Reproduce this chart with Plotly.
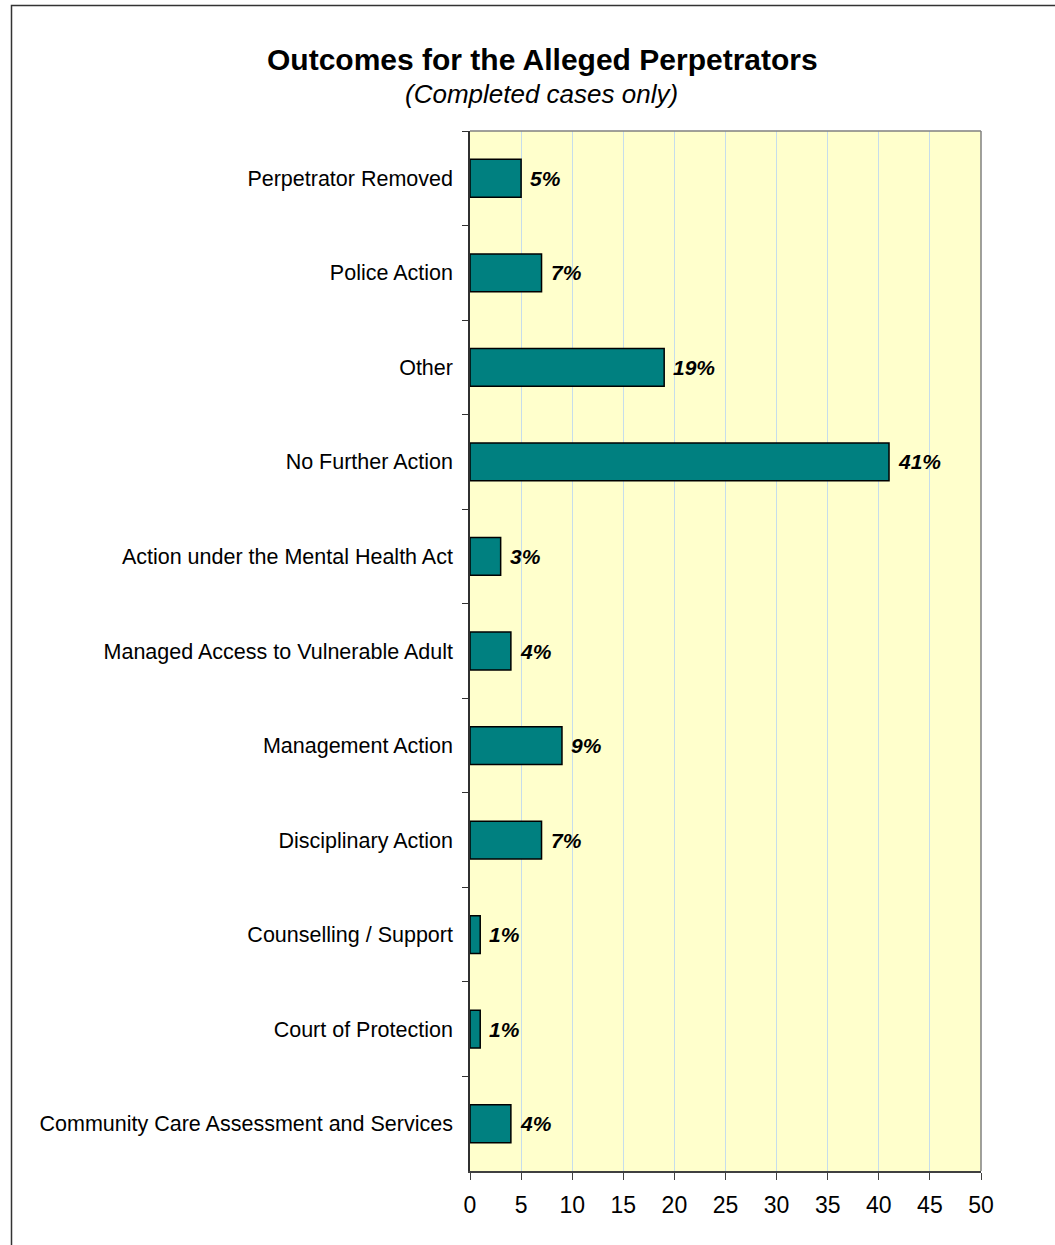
"""Horizontal bar chart: outcomes for the alleged perpetrators."""
import plotly.graph_objects as go

FONT = "Liberation Sans, Arial, sans-serif"
BAR_COLOR = "#008080"
PLOT_BG = "#FFFFCC"
GRID_COLOR = "#C6DDEB"

outcomes = [
    "Perpetrator Removed",
    "Police Action",
    "Other",
    "No Further Action",
    "Action under the Mental Health Act",
    "Managed Access to Vulnerable Adult",
    "Management Action",
    "Disciplinary Action",
    "Counselling / Support",
    "Court of Protection",
    "Community Care Assessment and Services",
]
percentages = [5, 7, 19, 41, 3, 4, 9, 7, 1, 1, 4]
x_ticks = [0, 5, 10, 15, 20, 25, 30, 35, 40, 45, 50]

# plot area in page pixels
LEFT, RIGHT, TOP, BOTTOM = 470, 981, 131, 1171
W, H = 1055, 1245
PW, PH = RIGHT - LEFT, BOTTOM - TOP


def px_y(y):
    return (BOTTOM - y) / PH


def px_x(x):
    return (x - LEFT) / PW


fig = go.Figure(go.Bar(
    x=percentages,
    y=outcomes,
    orientation="h",
    marker=dict(color=BAR_COLOR, line=dict(color="black", width=1.5)),
    hoverinfo="x+y",
))

# bold italic value labels to the right of each bar
for name, val in zip(outcomes, percentages):
    fig.add_annotation(
        x=val, y=name, text=f"<b><i>{val}%</i></b>",
        showarrow=False, xanchor="left", yanchor="middle", xshift=7,
        font=dict(family=FONT, size=21, color="black"),
    )

fig.add_annotation(
    x=px_x(542), y=px_y(59), xref="paper", yref="paper",
    xanchor="center", yanchor="middle",
    text="<b>Outcomes for the Alleged Perpetrators</b>", showarrow=False,
    font=dict(family=FONT, size=30, color="black"),
)
fig.add_annotation(
    x=px_x(541), y=px_y(94), xref="paper", yref="paper",
    xanchor="center", yanchor="middle",
    text="<i>(Completed cases only)</i>", showarrow=False,
    font=dict(family=FONT, size=26, color="black"),
)

# top and right plot frame, and the outer chart border
fig.add_shape(type="line", xref="paper", yref="paper", x0=0, x1=1, y0=1, y1=1,
              line=dict(color="#808080", width=1.5))
fig.add_shape(type="line", xref="paper", yref="paper", x0=1, x1=1, y0=0, y1=1,
              line=dict(color="#808080", width=1.5))
fig.add_shape(type="rect", xref="paper", yref="paper",
              x0=px_x(11.5), x1=px_x(W + 20), y0=px_y(H + 20), y1=px_y(5.5),
              line=dict(color="#333333", width=1.5), layer="below")

fig.update_layout(
    width=W, height=H,
    margin=dict(l=LEFT, r=W - RIGHT, t=TOP, b=H - BOTTOM),
    paper_bgcolor="white",
    plot_bgcolor=PLOT_BG,
    bargap=0.6,
    showlegend=False,
    font=dict(family=FONT, color="black"),
    xaxis=dict(
        range=[0, 50], tickvals=x_ticks, showgrid=True, gridcolor=GRID_COLOR, gridwidth=1,
        zeroline=False, showline=True, linecolor="#404040", linewidth=1.5,
        ticks="outside", ticklen=7, tickcolor="#404040", ticklabelstandoff=6,
        tickfont=dict(family=FONT, size=23), fixedrange=True,
    ),
    yaxis=dict(
        categoryorder="array", categoryarray=outcomes, autorange="reversed",
        showgrid=False, zeroline=False, showline=True, linecolor="#303030", linewidth=1.5,
        ticks="outside", ticklen=6, tickcolor="#303030", tickson="boundaries",
        ticklabelstandoff=11,
        tickfont=dict(family=FONT, size=21.5), fixedrange=True,
    ),
)

fig.write_html(
    "out.html",
    config={"displayModeBar": False},
    post_script="document.body.style.margin='0';",
)
